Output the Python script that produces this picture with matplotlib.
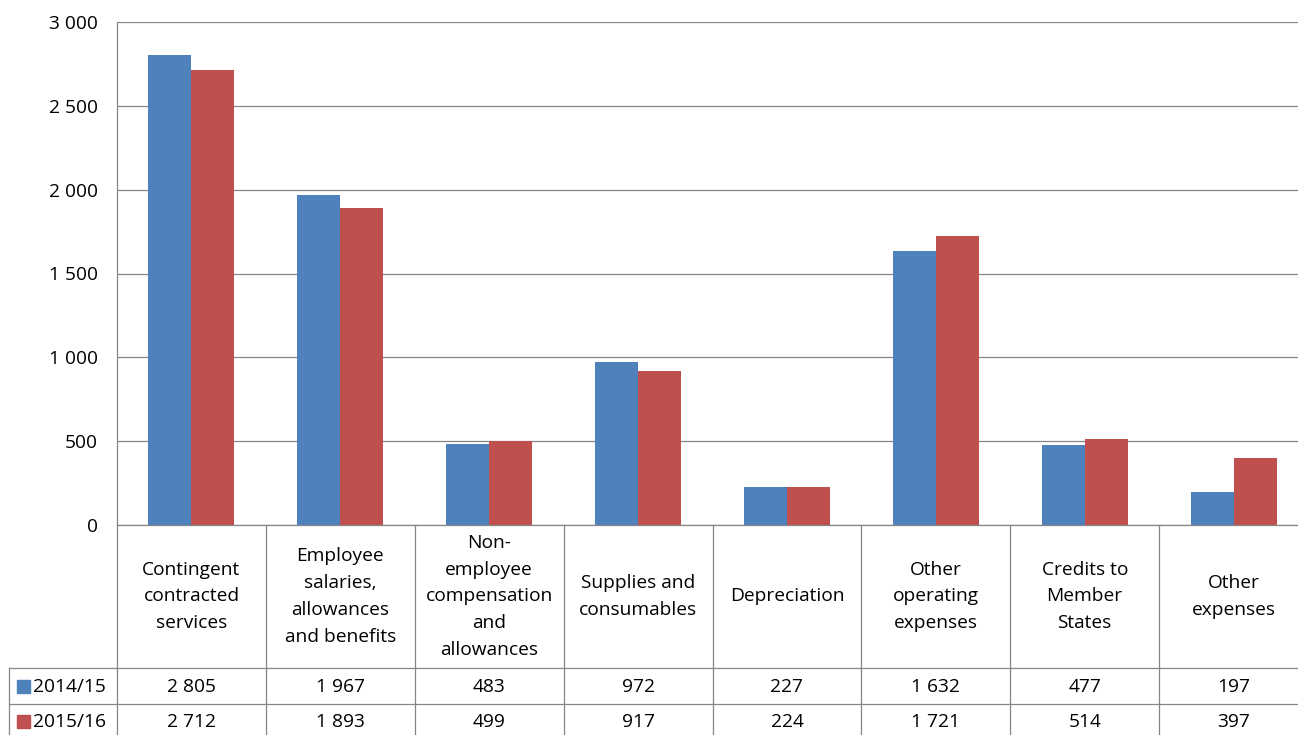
import matplotlib
matplotlib.use("Agg")
import matplotlib.pyplot as plt
from matplotlib.patches import Rectangle

categories = [
    "Contingent\ncontracted\nservices",
    "Employee\nsalaries,\nallowances\nand benefits",
    "Non-\nemployee\ncompensation\nand\nallowances",
    "Supplies and\nconsumables",
    "Depreciation",
    "Other\noperating\nexpenses",
    "Credits to\nMember\nStates",
    "Other\nexpenses",
]
series_names = ["2014/15", "2015/16"]
values_2014 = [2805, 1967, 483, 972, 227, 1632, 477, 197]
values_2015 = [2712, 1893, 499, 917, 224, 1721, 514, 397]
yticks = [0, 500, 1000, 1500, 2000, 2500, 3000]

colors = ["#4F81BD", "#C0504D"]
grid_col = "#868686"
font = "Open Sans"
fs = 13.8

W, H = 1298, 735
fig = plt.figure(figsize=(W / 100, H / 100), dpi=100)

def fx(px):
    return px / W

def fy(py):
    return 1 - py / H

# geometry in pixels
left, right, top, zero = 117, 1308, 22, 525
ax = fig.add_axes([fx(left), fy(zero), fx(right - left), (zero - top) / H])
n = len(categories)
x = list(range(n))
bw = 0.289
ax.bar([i - bw / 2 for i in x], values_2014, width=bw, color=colors[0], zorder=3)
ax.bar([i + bw / 2 for i in x], values_2015, width=bw, color=colors[1], zorder=3)
ax.set_xlim(-0.5, n - 0.5)
ax.set_ylim(0, 3000)
ax.set_yticks(yticks)
ax.set_yticklabels([f"{v:,}".replace(",", " ") for v in yticks],
                   fontfamily=font, fontsize=fs)
ax.tick_params(axis="y", length=0, pad=14)
ax.set_xticks([])
ax.grid(axis="y", color=grid_col, linewidth=0.9, zorder=0)
for s in ["top", "right", "bottom"]:
    ax.spines[s].set_visible(False)
ax.spines["left"].set_color(grid_col)
ax.spines["left"].set_linewidth(0.9)

# data table below the bars
tleft = 9
cw = (right - left) / n
tb = fig.add_axes([fx(tleft), 0, fx(right - tleft), fy(zero)])
tb.set_xlim(-0.5 - (left - tleft) / cw, n - 0.5)
tb.set_ylim(H, zero)
tb.axis("off")
row1, row2, row3 = 668, 704, 740
lw = 0.9
# horizontal lines
tb.plot([-0.5, n - 0.5], [zero, zero], color=grid_col, lw=lw, clip_on=False)
for yy in (row1, row2):
    tb.plot([-0.5 - (left - tleft) / cw, n - 0.5], [yy, yy], color=grid_col, lw=lw, clip_on=False)
# vertical lines
for i in range(n + 1):
    tb.plot([i - 0.5, i - 0.5], [zero, row3], color=grid_col, lw=lw, clip_on=False)
x0 = -0.5 - (left - tleft) / cw
tb.plot([x0, x0], [row1, row3], color=grid_col, lw=lw, clip_on=False)

for i, c in enumerate(categories):
    tb.text(i, (zero + row1) / 2, c, ha="center", va="center",
            fontfamily=font, fontsize=fs, linespacing=1.62)

rows = [values_2014, values_2015]
for r, (name, vals) in enumerate(zip(series_names, rows)):
    yc = (row1 + row2) / 2 + 1 if r == 0 else (row2 + row3) / 2
    sq = 13 / cw
    tb.add_patch(Rectangle((x0 + 8 / cw, yc - 6.5), sq, 13, color=colors[r], clip_on=False))
    tb.text(x0 + 24 / cw, yc, name, ha="left", va="center",
            fontfamily=font, fontsize=fs)
    for i, v in enumerate(vals):
        tb.text(i, yc, f"{v:,}".replace(",", " "), ha="center", va="center",
                fontfamily=font, fontsize=fs)

fig.savefig("out.png", dpi=100)
